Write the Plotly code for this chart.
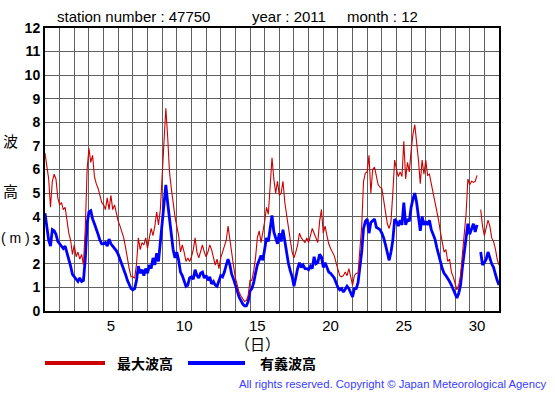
import plotly.graph_objects as go

# ---- data: December 2011, station 47750, values every 3 hours (day 1.0 = Dec 1 00:00) ----
STEP_HOURS = 3
START_DAY = 1

# 最大波高 (maximum wave height, m) -- 8 values per day, plus end point
max_wave = [
    6.7, 6.1, 5.6, 4.4, 5.5, 5.8, 5.6, 4.8,     # 1
    4.5, 4.6, 4.3, 4.4, 3.8, 3.3, 3.0, 2.4,     # 2
    2.8, 2.3, 2.5, 2.2, 2.4, 1.95, 3.5, 6.0,    # 3
    6.9, 6.3, 6.6, 5.7, 5.4, 5.2, 4.9, 4.6,     # 4
    4.5, 4.3, 4.8, 4.3, 4.9, 4.3, 4.5, 4.1,     # 5
    3.8, 3.6, 3.35, 3.1, 2.7, 2.2, 1.8, 1.45,   # 6
    1.45, 1.4, 2.0, 3.1, 2.6, 2.9, 2.8, 3.1,    # 7
    2.65, 3.1, 3.5, 3.2, 3.6, 4.2, 3.65, 4.3,   # 8
    5.6, 6.9, 8.6, 7.4, 5.9, 5.2, 4.5, 4.0,     # 9
    3.6, 3.2, 2.5, 2.8, 2.5, 2.1, 2.25, 2.1,    # 10
    2.3, 2.6, 3.1, 2.5, 2.25, 2.5, 2.8, 2.5,    # 11
    2.3, 2.5, 2.8, 2.6, 2.2, 1.95, 2.2, 1.8,    # 12
    2.25, 2.5, 2.85, 3.0, 3.6, 3.1, 2.4, 1.9,   # 13
    1.4, 1.1, 0.8, 0.65, 0.5, 0.4, 0.45, 0.65,  # 14
    1.3, 1.3, 1.7, 2.25, 3.1, 3.4, 2.9, 3.3,    # 15
    3.8, 4.4, 4.1, 5.3, 6.5, 5.6, 5.0, 5.5,     # 16
    4.9, 5.0, 5.5, 4.6, 4.0, 3.5, 3.0, 2.5,     # 17
    2.25, 2.5, 2.8, 3.3, 3.1, 3.0, 2.9, 3.1,    # 18
    2.9, 3.2, 3.5, 3.3, 3.1, 2.9, 3.8, 4.3,     # 19
    3.3, 3.6, 3.2, 2.85, 2.65, 2.5, 2.35, 2.05, # 20
    1.8, 1.5, 1.45, 1.5, 1.65, 1.5, 1.8, 1.4,   # 21
    1.1, 1.5, 1.6, 1.6, 2.6, 3.6, 5.5, 5.85,    # 22
    5.9, 6.6, 5.0, 6.0, 6.1, 5.7, 5.35, 5.25,   # 23
    5.2, 4.7, 4.2, 3.7, 3.5, 3.8, 5.0, 6.4,     # 24
    6.0, 5.7, 5.9, 5.7, 7.2, 5.6, 6.3, 5.9,     # 25
    6.8, 7.5, 7.9, 7.2, 6.4, 5.4, 6.4, 5.8,     # 26
    6.4, 5.75, 5.8, 5.4, 5.0, 4.75, 4.3, 3.85,  # 27
    3.35, 2.95, 2.5, 2.6, 2.1, 2.2, 1.65, 1.45, # 28
    1.2, 0.9, 1.1, 1.5, 2.4, 3.3, 4.1, 5.6,     # 29
    5.35, 5.5, 5.45, 5.5, 5.75, None, 4.3, 3.6, # 30
    3.2, 3.5, 3.85, 3.6, 3.1, 2.95, 2.65, 2.2,  # 31
    1.95,
]

# 有義波高 (significant wave height, m)
sig_wave = [
    4.15, 3.6, 3.0, 2.75, 3.45, 3.4, 3.25, 2.95,   # 1
    2.85, 2.8, 2.65, 2.75, 2.5, 2.2, 1.9, 1.55,    # 2
    1.45, 1.3, 1.25, 1.4, 1.25, 1.3, 2.2, 3.7,     # 3
    4.2, 4.25, 3.9, 3.7, 3.5, 3.25, 3.0, 2.85,     # 4
    2.85, 2.9, 2.75, 3.05, 2.85, 2.75, 2.7, 2.55,  # 5
    2.4, 2.2, 1.95, 1.75, 1.55, 1.3, 1.1, 0.95,    # 6
    0.9, 0.95, 1.3, 1.9, 1.6, 1.75, 1.5, 1.8,      # 7
    1.6, 1.95, 1.8, 2.25, 1.95, 2.45, 2.1, 2.9,    # 8
    3.8, 4.4, 5.35, 4.6, 3.9, 3.2, 2.6, 2.25,      # 9
    2.5, 2.15, 1.65, 1.5, 1.3, 1.05, 1.1, 1.4,     # 10
    1.45, 1.35, 1.75, 1.5, 1.4, 1.6, 1.65, 1.4,    # 11
    1.5, 1.3, 1.45, 1.15, 1.25, 1.1, 1.05, 1.25,   # 12
    1.5, 1.45, 1.65, 1.95, 2.2, 1.95, 1.55, 1.35,  # 13
    1.05, 0.85, 0.6, 0.45, 0.3, 0.22, 0.22, 0.4,   # 14
    0.85, 0.95, 1.2, 1.6, 1.95, 2.15, 2.35, 2.15,  # 15
    2.6, 3.1, 2.95, 3.45, 4.05, 3.35, 3.1, 2.85,   # 16
    3.3, 2.95, 3.45, 2.9, 2.4, 2.0, 1.7, 1.45,     # 17
    1.05, 1.45, 1.8, 2.05, 1.85, 1.95, 1.8, 1.8,   # 18
    1.75, 1.9, 1.8, 2.3, 2.0, 2.05, 2.4, 2.3,      # 19
    1.85, 2.05, 1.8, 1.65, 1.6, 1.5, 1.4, 1.2,     # 20
    1.0, 0.9, 0.95, 0.8, 0.95, 1.05, 0.95, 0.8,    # 21
    0.6, 0.95, 0.95, 1.2, 1.8, 2.5, 3.5, 3.8,      # 22
    3.9, 3.3, 3.75, 3.85, 3.9, 3.55, 3.5, 3.45,    # 23
    3.3, 3.1, 2.8, 2.45, 2.15, 2.5, 3.0, 3.9,      # 24
    3.8, 3.6, 3.85, 3.65, 4.6, 3.65, 3.9, 3.8,     # 25
    4.4, 4.75, 5.0, 4.6, 4.0, 3.4, 4.0, 3.65,      # 26
    3.8, 3.65, 3.85, 3.45, 3.25, 3.05, 2.7, 2.45,  # 27
    2.1, 1.8, 1.6, 1.5, 1.4, 1.25, 1.1, 0.9,       # 28
    0.75, 0.55, 0.75, 1.1, 1.85, 2.4, 3.1, 3.7,    # 29
    3.25, 3.45, 3.7, 3.35, 3.65, None, 2.5, 1.95,  # 30
    2.05, 2.2, 2.5, 2.2, 2.0, 1.85, 1.55, 1.3,     # 31
    1.1,
]

day_tick_values = [5.5, 10.5, 15.5, 20.5, 25.5, 30.5]
day_tick_labels = ["5", "10", "15", "20", "25", "30"]

times = [START_DAY + i * STEP_HOURS / 24 for i in range(len(max_wave))]

LATIN = "Liberation Sans, Arial, Helvetica, sans-serif"
CJK = "Noto Sans CJK JP, sans-serif"
RED = "#cc0000"
BLUE = "#0000ff"
GRID = "#606060"

fig = go.Figure()
fig.add_trace(go.Scatter(x=times, y=sig_wave, mode="lines", name="有義波高",
                         line=dict(color=BLUE, width=2.8), connectgaps=False))
fig.add_trace(go.Scatter(x=times, y=max_wave, mode="lines", name="最大波高",
                         line=dict(color=RED, width=1.1), connectgaps=False))

W, H = 555, 395
L, R, T, B = 45, 499, 28, 311


def px(x):
    return (x - L) / (R - L)


def py(y):
    return (B - y) / (B - T)


annotations = [
    dict(text="station number : 47750", x=px(55), y=py(17), xanchor="left"),
    dict(text="year : 2011", x=px(250), y=py(17), xanchor="left"),
    dict(text="month : 12", x=px(345), y=py(17), xanchor="left"),
]
for a in annotations:
    a.update(xref="paper", yref="paper", yanchor="middle", showarrow=False,
             font=dict(family=LATIN, size=15, color="black"))

side = [("波", 10, 140, CJK, 15), ("高", 10, 190, CJK, 15), ("( m )", 15, 238, LATIN, 14)]
for txt, x, y, fam, size in side:
    annotations.append(dict(text=txt, x=px(x), y=py(y), xref="paper", yref="paper",
                            xanchor="center", yanchor="middle", showarrow=False,
                            font=dict(family=fam, size=size, color="black")))

annotations.append(dict(text="（日）", x=px(257), y=py(343), xref="paper", yref="paper",
                        xanchor="center", yanchor="middle", showarrow=False,
                        font=dict(family=CJK, size=15, color="black")))

for txt, x in [("<b>最大波高</b>", 115), ("<b>有義波高</b>", 258)]:
    annotations.append(dict(text=txt, x=px(x), y=py(363), xref="paper", yref="paper",
                            xanchor="left", yanchor="middle", showarrow=False,
                            font=dict(family=CJK, size=14, color="black")))

annotations.append(dict(text="All rights reserved. Copyright © Japan Meteorological Agency",
                        x=px(549), y=py(384), xref="paper", yref="paper",
                        xanchor="right", yanchor="middle", showarrow=False,
                        font=dict(family=LATIN, size=11.3, color="#3a3aff")))

shapes = [
    dict(type="line", xref="paper", yref="paper", x0=px(45), x1=px(105), y0=py(363), y1=py(363),
         line=dict(color=RED, width=4)),
    dict(type="line", xref="paper", yref="paper", x0=px(188), x1=px(245), y0=py(363), y1=py(363),
         line=dict(color=BLUE, width=4)),
]

fig.update_layout(
    width=W, height=H,
    margin=dict(l=L, r=W - R, t=T, b=H - B, pad=0),
    paper_bgcolor="white", plot_bgcolor="white",
    showlegend=False,
    annotations=annotations,
    shapes=shapes,
    xaxis=dict(range=[1, 32], tickmode="array", tickvals=day_tick_values, ticktext=day_tick_labels,
               showgrid=False, zeroline=False, ticks="",
               minor=dict(tick0=1, dtick=1, showgrid=True, gridcolor=GRID, gridwidth=1, ticks=""),
               showline=True, linecolor="black", linewidth=2, mirror=True,
               tickfont=dict(family=LATIN, size=15, color="black")),
    yaxis=dict(range=[0, 12], dtick=1, tick0=0, showgrid=True, gridcolor=GRID, gridwidth=1,
               zeroline=False, ticks="", showline=True, linecolor="black", linewidth=2, mirror=True,
               tickfont=dict(family=LATIN, size=14, color="black"),
               tickprefix="<b>", ticksuffix="</b>"),
)

fig.write_html("out.html", config={"displayModeBar": False},
               post_script="document.body.style.margin='0px';document.body.style.overflow='hidden';")
